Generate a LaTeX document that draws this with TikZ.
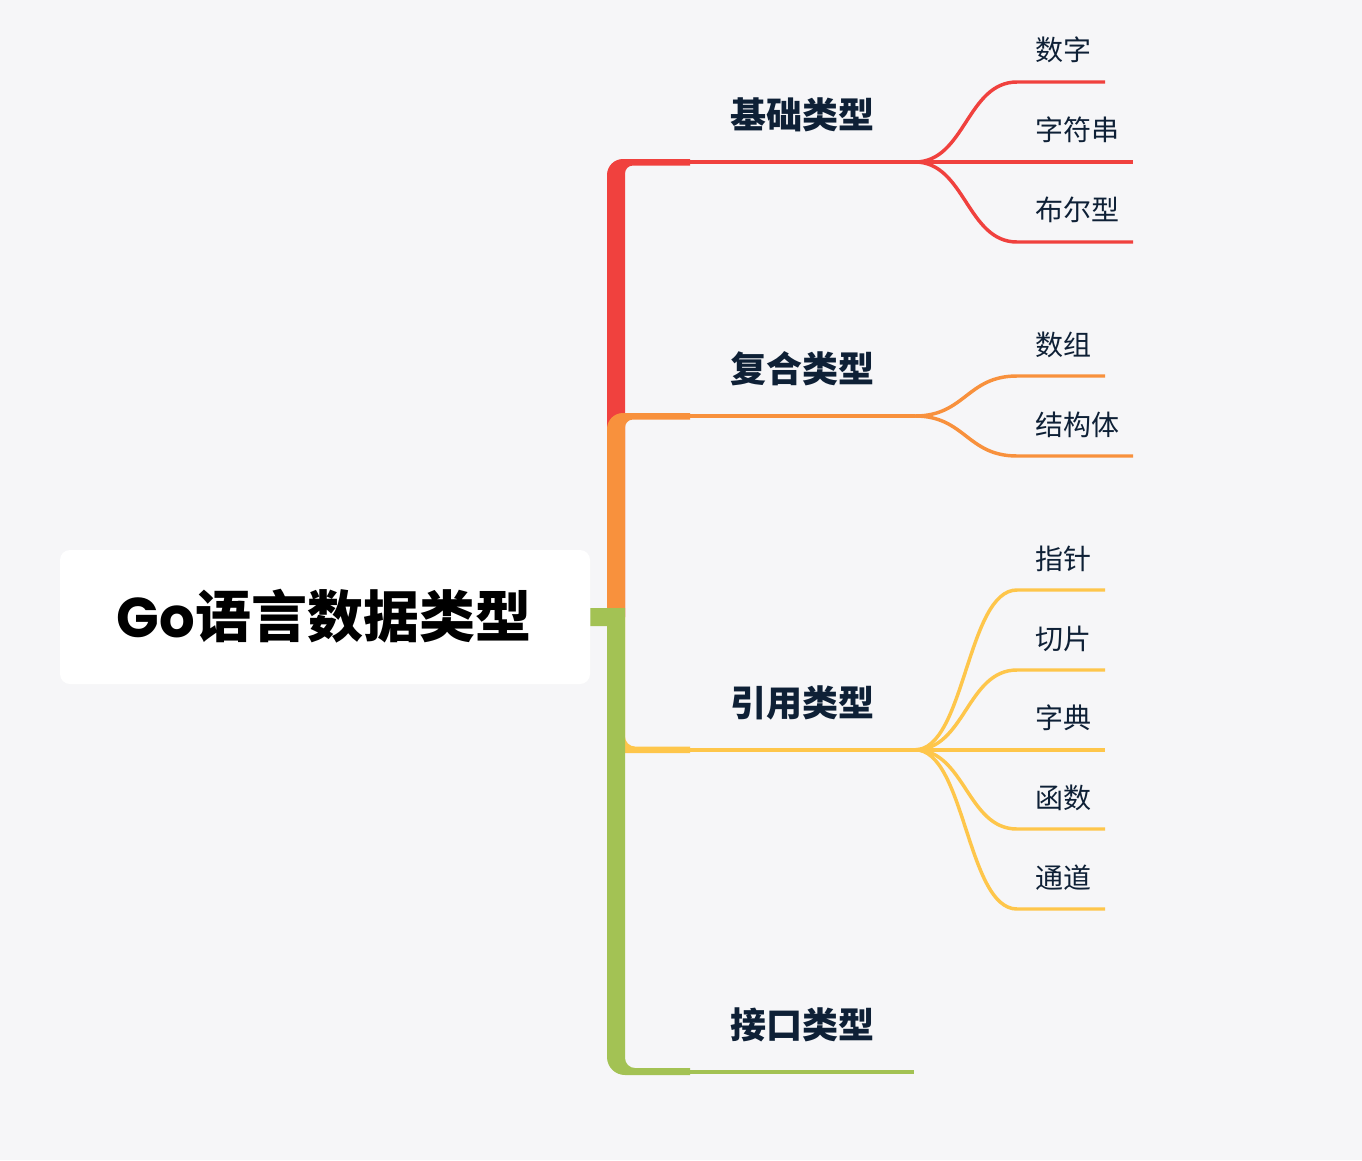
\documentclass[tikz,border=0pt]{standalone}
\usepackage{fontspec}
\newfontfamily\cjk{Noto Sans CJK SC}
\newfontfamily\pop{Poppins}
\definecolor{bg}{HTML}{F6F6F8}
\definecolor{cred}{HTML}{F0413E}
\definecolor{corange}{HTML}{F8913D}
\definecolor{cyellow}{HTML}{FEC64B}
\definecolor{cgreen}{HTML}{A3C254}
\definecolor{ink}{HTML}{0E2036}
\begin{document}
\begin{tikzpicture}[x=0.75pt,y=0.75pt,
  thin/.style={line width=2.6pt},
  branchtext/.style={font=\cjk\bfseries\fontsize{27pt}{30pt}\selectfont, text=ink, inner sep=0pt},
  leaftext/.style={font=\cjk\fontsize{21pt}{24pt}\selectfont, text=ink, inner sep=0pt, anchor=west},
  curvy/.style={to path={.. controls +(50,0) and +(-50,0) .. (\tikztotarget)}}
]
\fill[bg] (0,0) rectangle (1362,-1160);
\useasboundingbox (0,0) rectangle (1362,-1160);

% root
\node[fill=white, rounded corners=7.5pt, minimum width=397.5pt, minimum height=100.5pt, inner sep=0pt] (root) at (325,-617) {};
\node[inner sep=0pt, text=black] (roottext) at (324,-616) {{\pop\bfseries\fontsize{42pt}{46pt}\selectfont Go}{\cjk\bfseries\fontsize{42pt}{46pt}\selectfont 语言数据类型}};

% branch shapes
\fill[cred] (607,-617) -- (607,-175) arc[start angle=180,end angle=90,radius=16] -- (690,-159) -- (690,-165.5) -- (633,-165.5) arc[start angle=90,end angle=180,radius=8] -- (625,-617) -- cycle;
\fill[corange] (607,-617) -- (607,-429) arc[start angle=180,end angle=90,radius=16] -- (690,-413) -- (690,-419.5) -- (633,-419.5) arc[start angle=90,end angle=180,radius=8] -- (625,-617) -- cycle;
\fill[cyellow] (607,-617) -- (607,-737) arc[start angle=180,end angle=270,radius=16] -- (690,-753) -- (690,-746.5) -- (635,-746.5) arc[start angle=270,end angle=180,radius=10] -- (625,-617) -- cycle;
\fill[cgreen] (root.east|-0,-608) -- (625,-608) -- (625,-1058) arc[start angle=180,end angle=270,radius=10] -- (690,-1068) -- (690,-1075) -- (625,-1075) arc[start angle=270,end angle=180,radius=18] -- (607,-626) -- (root.east|-0,-626) -- cycle;

% branch labels and coordinates
\node[branchtext] (b1) at (802,-115) {基础类型};
\node[branchtext] (b2) at (802,-369) {复合类型};
\node[branchtext] (b3) at (802,-703) {引用类型};
\node[branchtext] (b4) at (802,-1025) {接口类型};
\coordinate (b1s) at (689,-162);
\coordinate (b2s) at (689,-416);
\coordinate (b3s) at (689,-749.8);
\coordinate (b4s) at (689,-1071.8);
\coordinate (j1) at (915,-162);
\coordinate (j2) at (915,-416);
\coordinate (j3) at (915,-749.8);
\coordinate (b4e) at (914,-1071.8);

% leaves
\node[leaftext] (l11) at (1035,-50) {数字};
\node[leaftext] (l12) at (1035,-130) {字符串};
\node[leaftext] (l13) at (1035,-210) {布尔型};
\node[leaftext] (l21) at (1035,-345) {数组};
\node[leaftext] (l22) at (1035,-425) {结构体};
\node[leaftext] (l31) at (1035,-559) {指针};
\node[leaftext] (l32) at (1035,-639) {切片};
\node[leaftext] (l33) at (1035,-718) {字典};
\node[leaftext] (l34) at (1035,-798) {函数};
\node[leaftext] (l35) at (1035,-878) {通道};

\coordinate (l11a) at (1017,-82);   \coordinate (l11b) at (1105,-82);
\coordinate (l12b) at (1133,-162);
\coordinate (l13a) at (1017,-242);  \coordinate (l13b) at (1133,-242);
\coordinate (l21a) at (1017,-376);  \coordinate (l21b) at (1105,-376);
\coordinate (l22a) at (1017,-456);  \coordinate (l22b) at (1133,-456);
\coordinate (l31a) at (1017,-590);  \coordinate (l31b) at (1105,-590);
\coordinate (l32a) at (1017,-670);  \coordinate (l32b) at (1105,-670);
\coordinate (l33b) at (1105,-749.8);
\coordinate (l34a) at (1017,-829);  \coordinate (l34b) at (1105,-829);
\coordinate (l35a) at (1017,-909);  \coordinate (l35b) at (1105,-909);

% red
\draw[cred,thin] (b1s) -- (j1) -- (l12b);
\draw[cred,thin] (j1) to[curvy] (l11a) -- (l11b);
\draw[cred,thin] (j1) to[curvy] (l13a) -- (l13b);
% orange
\draw[corange,thin] (b2s) -- (j2);
\draw[corange,thin] (j2) to[curvy] (l21a) -- (l21b);
\draw[corange,thin] (j2) to[curvy] (l22a) -- (l22b);
% yellow
\draw[cyellow,thin] (b3s) -- (j3) -- (l33b);
\draw[cyellow,thin] (j3) to[curvy] (l31a) -- (l31b);
\draw[cyellow,thin] (j3) to[curvy] (l32a) -- (l32b);
\draw[cyellow,thin] (j3) to[curvy] (l34a) -- (l34b);
\draw[cyellow,thin] (j3) to[curvy] (l35a) -- (l35b);
% green
\draw[cgreen,thin] (b4s) -- (b4e);
\end{tikzpicture}
\end{document}
